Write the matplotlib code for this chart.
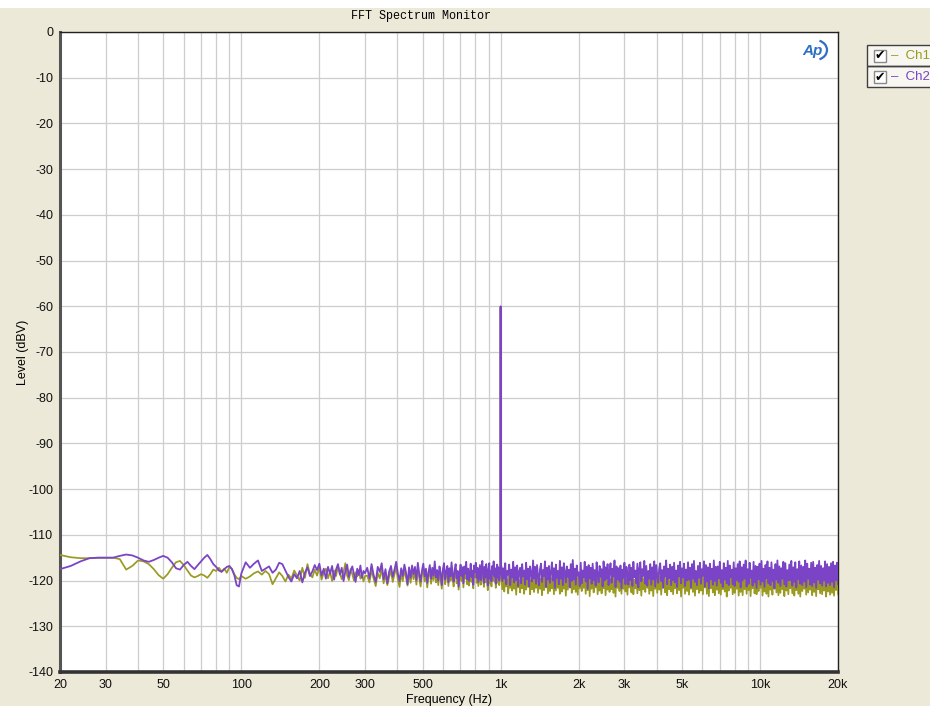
import numpy as np
import matplotlib
matplotlib.use("Agg")
import matplotlib.pyplot as plt
from matplotlib.patches import Rectangle, Arc
from matplotlib.ticker import FixedLocator, NullFormatter

# ---------------- data ----------------
f_low = [20, 22, 24, 26, 28, 30, 32, 34, 36, 38, 40, 42, 44, 46, 48, 50, 52, 54, 56, 58,
         60, 62, 64, 66, 68, 70, 72, 74, 76, 78, 80, 82, 84, 86, 88, 90, 92, 94, 96, 98, 100]
ch1_low = [-114.4, -114.9, -115.1, -115.1, -115.0, -115.0, -115.0, -115.3, -117.6, -116.8,
           -115.6, -115.8, -116.4, -117.5, -118.8, -119.6, -118.6, -117.2, -116.0, -115.7,
           -116.6, -117.8, -118.9, -119.3, -119.0, -118.6, -118.9, -119.4, -118.6, -117.6,
           -117.9, -117.2, -118.0, -117.4, -118.3, -117.0, -117.4, -118.6, -119.4, -119.7, -119.0]
ch2_low = [-117.5, -116.8, -115.8, -115.1, -115.0, -115.0, -115.0, -114.6, -114.3, -114.5,
           -115.0, -115.6, -115.9, -115.5, -115.0, -114.6, -115.0, -116.0, -117.3, -117.6,
           -116.6, -115.9, -116.8, -117.5, -116.6, -115.8, -115.0, -114.4, -115.3, -116.4,
           -117.0, -117.8, -118.1, -117.5, -117.0, -116.8, -117.5, -118.8, -121.0, -121.3, -118.5]

ch1_mid1 = [-119.6, -119.1, -118.4, -118.0, -118.7, -117.9, -118.6, -120.8, -119.5, -118.2,
            -119.0, -120.2, -118.7, -119.6, -117.8, -118.9, -120.0, -117.2, -119.4, -116.4,
            -118.6, -119.3, -117.6, -118.9, -117.1, -119.8, -118.3, -117.4, -119.5, -118.0,
            -120.1, -117.8, -119.0, -116.8, -118.4, -119.7, -118.1, -116.2, -118.9, -119.9,
            -117.5, -118.6, -120.0, -118.2, -119.1, -117.7, -119.6, -118.5, -120.2, -119.0]
ch2_mid1 = [-116.0, -117.2, -116.3, -115.6, -117.9, -117.4, -116.9, -118.3, -117.6, -116.1,
            -116.4, -117.8, -119.2, -120.2, -118.6, -119.5, -117.9, -120.4, -118.3, -117.1,
            -119.0, -118.0, -116.6, -117.7, -116.3, -118.9, -117.4, -119.6, -117.0, -118.5,
            -116.8, -119.8, -117.6, -116.4, -118.7, -117.2, -120.1, -118.0, -116.5, -119.2,
            -117.8, -116.9, -118.6, -120.3, -117.4, -118.8, -116.7, -119.4, -117.9, -118.4]

ch1_mid2 = [-118.9, -120.4, -117.8, -119.6, -121.2, -118.3, -119.5, -117.4, -120.6, -118.7,
            -121.0, -119.2, -117.9, -120.3, -118.6, -117.2, -119.8, -121.4, -118.4, -120.1,
            -117.6, -119.3, -121.1, -118.2, -120.5, -117.8, -119.7, -118.1, -120.9, -117.5,
            -119.4, -121.3, -118.8, -117.3, -120.2, -118.5, -121.5, -119.0, -117.7, -120.7,
            -118.3, -119.9, -116.9, -120.4, -118.9, -121.0, -118.0, -119.6, -121.8, -118.6,
            -117.4, -120.8, -119.1, -117.9, -121.2, -118.4, -120.0, -117.1, -119.7, -121.3,
            -118.7, -117.5, -120.6, -118.9, -122.0, -119.3, -117.6, -120.1, -118.2, -121.5,
            -118.0, -119.6, -117.0, -120.8, -118.5, -121.1, -119.7, -117.4, -120.3, -118.9,
            -121.7, -117.8, -119.2, -117.2, -120.5, -118.3, -121.2, -119.5, -117.7, -120.9,
            -118.6, -116.8, -119.9, -121.4, -118.1, -120.4, -117.5, -119.3, -122.1, -118.7,
            -117.3, -120.7, -119.0, -121.3, -117.9, -119.7, -116.9, -120.2, -118.4, -121.6,
            -119.1, -117.6, -120.5, -118.2, -121.0, -119.4]
ch2_mid2 = [-117.2, -119.5, -116.4, -118.8, -120.3, -117.0, -118.1, -116.2, -119.7, -117.5,
            -120.6, -118.0, -116.8, -119.2, -117.6, -115.9, -118.5, -120.1, -117.3, -119.0,
            -116.5, -118.2, -120.8, -117.1, -119.4, -116.7, -118.6, -117.0, -119.9, -116.1,
            -118.4, -120.2, -117.8, -116.3, -119.1, -117.4, -120.5, -118.1, -116.6, -119.6,
            -117.2, -118.9, -115.8, -119.3, -117.7, -120.0, -116.9, -118.3, -121.0, -117.5,
            -116.2, -119.8, -118.0, -116.8, -120.4, -117.3, -119.1, -116.0, -118.7, -120.2,
            -117.6, -116.4, -119.5, -117.9, -121.3, -118.2, -116.5, -119.0, -117.1, -120.6,
            -116.9, -118.5, -115.9, -119.7, -117.4, -120.1, -118.6, -116.3, -119.2, -117.8,
            -120.9, -116.7, -118.1, -116.1, -119.4, -117.2, -120.3, -118.4, -116.6, -119.9,
            -117.5, -115.7, -118.8, -120.5, -117.0, -119.3, -116.4, -118.2, -121.1, -117.6,
            -116.2, -119.6, -117.9, -120.2, -116.8, -118.6, -115.8, -119.1, -117.3, -120.7,
            -118.0, -116.5, -119.4, -117.1, -120.0, -118.3]

f_peak = [998, 1000, 1002]
ch1_peak = [-119.0, -60.2, -119.4]
ch2_peak = [-118.0, -60.0, -118.6]

ch1_high = [
    -118.6, -121.9, -119.2, -122.4, -118.1, -121.3, -119.7, -122.8, -118.4, -121.6,
    -119.5, -122.2, -117.9, -121.8, -119.0, -123.1, -118.7, -121.5, -119.9, -122.6,
    -118.3, -121.7, -119.4, -122.9, -117.8, -122.0, -119.1, -121.4, -118.5, -123.0,
    -119.8, -121.9, -118.2, -122.5, -119.3, -121.6, -117.7, -122.7, -118.9, -121.8,
    -119.6, -123.2, -118.0, -122.1, -119.2, -121.5, -118.6, -122.8, -117.9, -122.3,
    -119.4, -121.7, -118.4, -123.0, -119.0, -122.2, -118.1, -121.6, -119.7, -122.9,
    -118.3, -122.4, -119.5, -121.8, -117.8, -123.3, -118.8, -122.0, -119.1, -121.5,
    -118.5, -122.7, -119.9, -121.9, -118.0, -122.5, -119.3, -123.1, -118.6, -121.7,
    -119.2, -122.3, -117.9, -121.6, -118.7, -122.9, -119.6, -122.1, -118.2, -123.4,
    -119.0, -121.8, -118.4, -122.6, -119.8, -121.5, -118.1, -123.0, -119.3, -122.2,
    -117.8, -122.8, -119.1, -121.7, -118.6, -123.2, -119.5, -122.0, -118.3, -122.5,
    -119.7, -121.9, -118.0, -122.7, -119.2, -123.5, -118.5, -121.6, -119.4, -122.3,
    -118.2, -122.9, -119.0, -121.8, -117.9, -122.4, -119.6, -123.1, -118.7, -121.5,
    -119.3, -122.6, -118.1, -123.0, -119.8, -121.7, -118.4, -122.8, -117.8, -122.1,
    -119.1, -123.3, -118.6, -121.9, -119.5, -122.5, -118.0, -121.6, -119.2, -122.9,
    -118.3, -122.2, -119.7, -123.4, -118.8, -121.8, -117.9, -122.7, -119.0, -122.0,
    -118.5, -123.1, -119.4, -121.5, -118.1, -122.6, -119.6, -123.2, -118.2, -121.9,
    -119.9, -122.4, -118.7, -123.0, -119.1, -121.7, -118.0, -122.8, -119.3, -122.1,
    -118.4, -123.5, -119.5, -121.6, -117.8, -122.9, -118.9, -122.3, -119.7, -123.1,
    -118.6, -121.8, -119.2, -122.5, -118.0, -123.3, -119.0, -121.9, -118.3, -122.7,
    -119.6, -122.2, -118.2, -123.0, -119.4, -121.5, -118.7, -122.9, -117.9, -123.4,
    -119.1, -121.7, -118.5, -122.6, -119.8, -123.2, -118.1, -122.0, -119.3, -122.8,
    -118.4, -123.1, -119.0, -121.9, -118.6, -122.4, -119.5, -123.5, -118.0, -122.2,
    -119.2, -121.6, -118.8, -123.0, -117.9, -122.7, -119.7, -121.8, -118.3, -123.3,
    -119.4, -122.5, -118.1, -123.2, -119.0, -121.9, -118.6, -122.9, -119.6, -122.1,
    -118.2, -123.4, -119.3, -121.7, -118.5, -122.8, -119.9, -123.0, -118.0, -122.3,
    -119.1, -121.6, -118.7, -123.3, -119.5, -122.4, -117.8, -122.9, -119.2, -123.5,
    -118.4, -122.0, -119.8, -123.1, -118.1, -121.8, -119.0, -122.6, -118.6, -123.2,
    -119.3, -122.7, -118.3, -121.9, -119.6, -123.4, -118.0, -122.2, -119.4, -123.0,
    -118.8, -121.7, -119.1, -122.8, -118.2, -123.3, -119.7, -122.1, -118.5, -122.9,
    -119.0, -123.5, -118.4, -122.3, -119.5, -121.8, -118.1, -123.1, -119.2, -122.6,
    -118.7, -122.0, -119.9, -123.2, -118.3, -122.5, -119.1, -123.4, -118.0, -121.9,
    -119.4, -122.8, -118.6, -123.0, -119.3, -122.2, -118.2, -123.5, -119.6, -122.4,
    -118.9, -123.1, -118.4, -122.7, -119.0, -123.3, -118.6, -122.1, -119.2, -123.0]

ch2_high = [
    -116.8, -120.1, -117.3, -119.6, -116.2, -120.8, -117.9, -118.7, -116.5, -121.0,
    -117.6, -119.3, -115.9, -120.4, -117.1, -119.9, -116.7, -121.2, -118.0, -117.2,
    -120.6, -116.4, -119.1, -117.8, -120.9, -116.1, -119.7, -117.4, -121.3, -116.9,
    -118.4, -120.2, -115.6, -119.5, -117.0, -120.7, -116.6, -118.9, -121.1, -117.5,
    -116.3, -120.3, -117.7, -119.0, -115.8, -121.4, -117.2, -119.8, -116.8, -120.5,
    -118.1, -116.0, -120.0, -117.3, -121.6, -116.5, -119.4, -117.9, -120.8, -115.7,
    -119.6, -117.1, -121.0, -116.2, -118.6, -120.4, -116.9, -119.2, -117.6, -121.5,
    -116.4, -120.1, -115.5, -119.7, -117.4, -120.9, -116.7, -119.0, -118.2, -121.2,
    -116.1, -120.6, -117.8, -119.3, -115.9, -120.2, -117.0, -121.8, -116.6, -119.5,
    -117.2, -120.7, -116.3, -119.9, -117.7, -121.1, -116.0, -118.8, -120.4, -116.8,
    -119.2, -117.5, -121.3, -115.8, -120.0, -117.1, -119.6, -116.4, -121.0, -117.9,
    -116.2, -120.5, -117.4, -119.1, -115.6, -121.4, -116.9, -119.8, -117.3, -120.3,
    -116.7, -121.7, -117.6, -119.4, -116.1, -120.8, -117.0, -118.5, -120.9, -116.5,
    -119.9, -117.2, -121.2, -115.9, -119.3, -117.8, -120.6, -116.3, -121.5, -117.4,
    -116.0, -120.2, -117.5, -119.0, -115.7, -120.7, -116.8, -121.1, -117.9, -119.6,
    -116.4, -120.9, -117.1, -119.7, -115.8, -121.3, -116.6, -118.9, -120.5, -117.3,
    -116.2, -120.1, -117.7, -121.6, -116.9, -119.2, -115.6, -120.8, -117.4, -119.5,
    -116.5, -121.0, -117.0, -119.9, -116.1, -120.4, -117.8, -121.4, -116.7, -119.1,
    -115.9, -120.6, -117.3, -119.3, -116.3, -121.2, -117.6, -120.0, -116.0, -119.8,
    -117.2, -121.5, -116.4, -119.6, -115.7, -120.3, -117.9, -121.0, -116.8, -119.4,
    -116.1, -120.7, -117.5, -119.0, -115.8, -121.3, -116.6, -120.2, -117.1, -121.7,
    -116.3, -119.7, -117.4, -120.9, -115.6, -120.1, -117.0, -121.1, -116.9, -119.5,
    -115.9, -120.5, -117.7, -121.4, -116.2, -119.8, -117.2, -120.6, -115.7, -121.0,
    -116.7, -119.3, -117.6, -120.8, -116.0, -121.2, -117.3, -119.9, -116.4, -120.3,
    -115.8, -121.5, -117.1, -120.0, -116.5, -119.6, -115.6, -121.3, -117.5, -120.7,
    -116.1, -119.4, -117.8, -121.1, -115.9, -120.4, -116.8, -121.6, -117.0, -119.7,
    -116.3, -120.9, -115.7, -120.2, -117.4, -121.4, -116.6, -119.5, -115.8, -120.6,
    -117.2, -121.0, -116.0, -120.1, -117.6, -121.7, -116.4, -119.8, -115.6, -120.5,
    -116.9, -121.2, -117.3, -119.6, -115.9, -120.8, -116.2, -121.3, -117.7, -120.0,
    -116.5, -119.9, -115.7, -121.1, -117.1, -120.3, -116.0, -121.5, -117.5, -119.7,
    -115.8, -120.7, -116.7, -121.0, -117.0, -120.2, -115.6, -121.4, -116.3, -119.6,
    -117.4, -120.9, -116.1, -121.2, -115.9, -120.4, -117.2, -121.6, -116.6, -119.8,
    -115.7, -120.6, -116.8, -121.1, -117.3, -120.0, -115.8, -121.3, -116.4, -120.5,
    -117.0, -121.0, -116.2, -120.3, -115.9, -121.5, -116.7, -119.9, -116.1, -120.8]

x_major = [20, 30, 50, 100, 200, 300, 500, 1000, 2000, 3000, 5000, 10000, 20000]
x_labels = ["20", "30", "50", "100", "200", "300", "500", "1k", "2k", "3k", "5k", "10k", "20k"]
y_ticks = [0, -10, -20, -30, -40, -50, -60, -70, -80, -90, -100, -110, -120, -130, -140]
y_labels = [str(v) for v in y_ticks]
channels = ["Ch1", "Ch2"]

# frequency bins of each segment
f_mid1 = np.linspace(104, 300, len(ch2_mid1))
f_mid2 = np.linspace(306, 994, len(ch2_mid2))
f_high = np.geomspace(1006, 20000, len(ch2_high))

freq = np.concatenate([f_low, f_mid1, f_mid2, f_peak, f_high])
ch1 = np.concatenate([ch1_low, ch1_mid1, ch1_mid2, ch1_peak, ch1_high])
ch2 = np.concatenate([ch2_low, ch2_mid1, ch2_mid2, ch2_peak, ch2_high])

# ---------------- style ----------------
W, H = 930, 706
BG = "#ECE9D8"
C1 = "#9a9a22"
C2 = "#7b44c6"
plt.rcParams["font.family"] = ["Liberation Sans", "DejaVu Sans"]

fig = plt.figure(figsize=(W / 100, H / 100), dpi=100, facecolor=BG)

def fx(x):
    return x / W

def fy(y):
    return 1 - y / H

# white strip at the very top
fig.patches.append(Rectangle((0, fy(8)), 1, 8 / H, transform=fig.transFigure,
                             facecolor="white", edgecolor="none", zorder=0))

L, R, T, B = 60, 838, 32, 672
ax = fig.add_axes([fx(L), fy(B), (R - L) / W, (B - T) / H])
ax.set_facecolor("white")
ax.set_xscale("log")
ax.set_xlim(20, 20000)
ax.set_ylim(-140, 0)

minor = []
for dec in (10, 100, 1000, 10000):
    for m in range(1, 10):
        v = m * dec
        if 20 <= v <= 20000:
            minor.append(v)
ax.xaxis.set_major_locator(FixedLocator(x_major))
ax.set_xticklabels(x_labels)
ax.xaxis.set_minor_locator(FixedLocator(minor))
ax.xaxis.set_minor_formatter(NullFormatter())
ax.set_yticks(y_ticks)
ax.set_yticklabels(y_labels)
ax.grid(which="both", axis="both", color="#cdcdcd", linewidth=0.9)
ax.set_axisbelow(True)
ax.tick_params(which="both", length=0, labelsize=9, colors="#111111")
ax.tick_params(axis="y", pad=5)
ax.tick_params(axis="x", pad=5)

for side in ("top", "right"):
    ax.spines[side].set_color("#222222")
    ax.spines[side].set_linewidth(1.0)
ax.spines["left"].set_color("#555555")
ax.spines["left"].set_linewidth(2.2)
ax.spines["bottom"].set_color("#333333")
ax.spines["bottom"].set_linewidth(2.6)

ax.plot(freq, ch1, color=C1, linewidth=1.25, zorder=3)
ax.plot(freq, ch2, color=C2, linewidth=1.3, zorder=4)

ax.set_xlabel("Frequency (Hz)", fontsize=9)
ax.xaxis.set_label_coords(0.5, -0.035)
ax.set_ylabel("Level (dBV)", fontsize=9)
ax.yaxis.set_label_coords(-0.040, 0.5)

# title
fig.text(fx(421), fy(16), "FFT Spectrum Monitor", family=["Liberation Mono", "DejaVu Sans Mono"],
         fontsize=8.5, ha="center", va="center", color="#000000")

# AP logo
fig.text(fx(812), fy(51), "Ap", fontsize=11, fontweight="bold", style="italic",
         color="#2f6fc4", ha="center", va="center")
fig.patches.append(Arc((fx(815), fy(50)), 24 / W, 20 / H, theta1=-70, theta2=70,
                       transform=fig.transFigure, color="#2f6fc4", linewidth=1.6))

# legend
lx0, ly0, lx1, ly1 = 867, 45, 940, 87
fig.patches.append(Rectangle((fx(lx0), fy(ly1)), (lx1 - lx0) / W, (ly1 - ly0) / H,
                             transform=fig.transFigure, facecolor="#f7f6f0",
                             edgecolor="#404040", linewidth=1.0, zorder=2))
fig.patches.append(Rectangle((fx(lx0), fy(66)), (lx1 - lx0) / W, 0.0,
                             transform=fig.transFigure, facecolor="none",
                             edgecolor="#404040", linewidth=1.0, zorder=2))
for i, (name, col) in enumerate(zip(channels, [C1, C2])):
    cy = 56 + i * 21
    fig.patches.append(Rectangle((fx(874), fy(cy + 6)), 12 / W, 12 / H,
                                 transform=fig.transFigure, facecolor="white",
                                 edgecolor="#8a8a8a", linewidth=1.0, zorder=3))
    fig.text(fx(880), fy(cy), "\u2714", family=["DejaVu Sans"], fontsize=9,
             ha="center", va="center", color="black", zorder=4)
    fig.text(fx(891), fy(cy), "\u2013  " + name, fontsize=9.5, ha="left", va="center",
             color=col, zorder=4)

fig.savefig("out.png", dpi=100, facecolor=BG)
